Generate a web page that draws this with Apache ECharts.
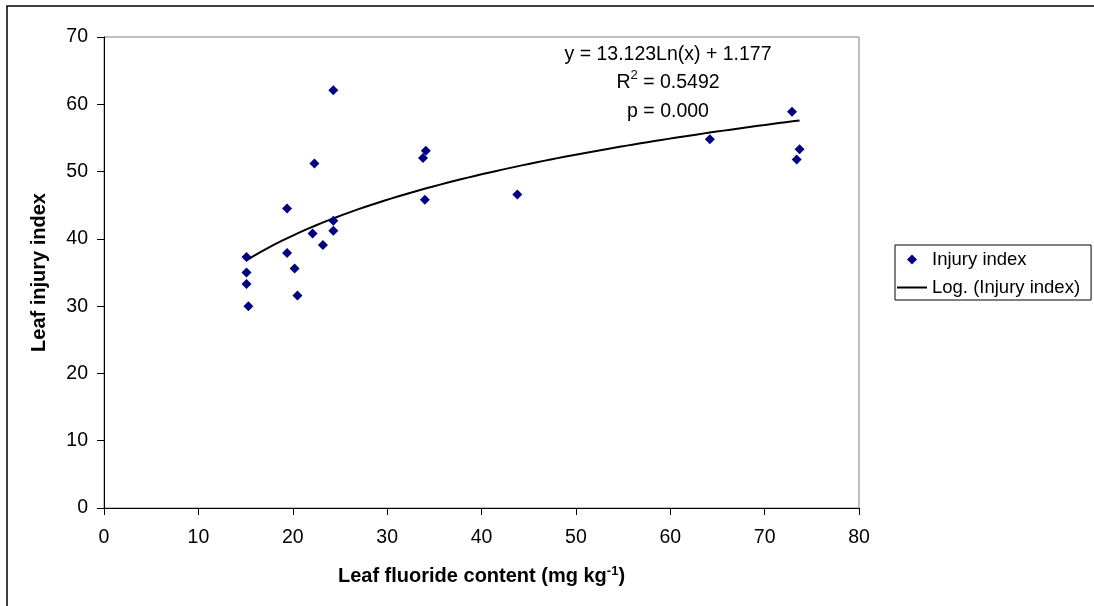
<!DOCTYPE html>
<html>
<head>
<meta charset="utf-8">
<script src="https://cdn.jsdelivr.net/npm/echarts@6/dist/echarts.min.js"></script>
<style>
  html, body { margin: 0; padding: 0; background: #fff; }
  #chart { width: 1094px; height: 606px; }
</style>
</head>
<body>
<div id="chart"></div>
<script>
// Leaf fluoride content (mg kg-1) and leaf injury index per sample
const fluoride = [24.3, 22.3, 19.4, 24.3, 22.1, 24.3, 23.2, 15.1, 19.4, 20.2, 15.1, 15.1, 20.5, 15.3,
                  34.1, 33.8, 34.0, 43.8, 72.9, 64.2, 73.7, 73.4];
const injury   = [62.1, 51.2, 44.5, 42.7, 40.8, 41.2, 39.1, 37.3, 37.9, 35.6, 35.0, 33.3, 31.6, 30.0,
                  53.1, 52.0, 45.8, 46.6, 58.9, 54.8, 53.3, 51.8];

// Logarithmic trend: y = a * ln(x) + b
const trendCoef = { a: 13.123, b: 1.177 };
const trendText = ['y = 13.123Ln(x) + 1.177', 'R{sup|2} = 0.5492', 'p = 0.000'];

const xTicks = { min: 0, max: 80, interval: 10 };
const yTicks = { min: 0, max: 70, interval: 10 };

const seriesNames = ['Injury index', 'Log. (Injury index)'];

const points = fluoride.map((x, i) => [x, injury[i]]);

// trend curve sampled across the observed fluoride range
const xLo = Math.min(...fluoride), xHi = Math.max(...fluoride);
const trend = [];
for (let i = 0; i <= 80; i++) {
  const x = xLo + (xHi - xLo) * i / 80;
  trend.push([x, trendCoef.a * Math.log(x) + trendCoef.b]);
}

const FONT = '"Liberation Sans", Arial, sans-serif';

const chart = echarts.init(document.getElementById('chart'), null, { renderer: 'canvas' });
chart.setOption({
  animation: false,
  backgroundColor: '#ffffff',
  textStyle: { fontFamily: FONT, color: '#000' },
  grid: {
    left: 104, top: 37, right: 235, bottom: 98,
    show: true, borderColor: '#808080', borderWidth: 1, backgroundColor: 'transparent'
  },
  xAxis: {
    type: 'value', min: xTicks.min, max: xTicks.max, interval: xTicks.interval,
    name: 'Leaf fluoride content (mg kg{sup|-1})',
    nameLocation: 'middle', nameGap: 57,
    nameTextStyle: {
      fontFamily: FONT, fontSize: 20, fontWeight: 'bold', color: '#000',
      rich: { sup: { fontFamily: FONT, fontSize: 13, fontWeight: 'bold', verticalAlign: 'top', padding: [0, 0, 10, 0] } }
    },
    axisLine: { show: true, lineStyle: { color: '#000', width: 1 } },
    axisTick: { show: true, inside: false, length: 7, lineStyle: { color: '#000' } },
    axisLabel: { fontFamily: FONT, fontSize: 19.5, color: '#000', margin: 20 },
    splitLine: { show: false }
  },
  yAxis: {
    type: 'value', min: yTicks.min, max: yTicks.max, interval: yTicks.interval,
    name: 'Leaf injury index',
    nameLocation: 'middle', nameGap: 55,
    nameTextStyle: { fontFamily: FONT, fontSize: 20, fontWeight: 'bold', color: '#000' },
    axisLine: { show: true, lineStyle: { color: '#000', width: 1 } },
    axisTick: { show: true, inside: false, length: 7, lineStyle: { color: '#000' } },
    axisLabel: { fontFamily: FONT, fontSize: 19.5, color: '#000', margin: 16 },
    splitLine: { show: false }
  },
  legend: {
    orient: 'vertical',
    left: 895, top: 245,
    padding: [5, 11, 3, 2],
    itemGap: 9,
    itemWidth: 30, itemHeight: 10,
    borderColor: '#000', borderWidth: 1,
    backgroundColor: '#fff',
    textStyle: { fontFamily: FONT, fontSize: 18.5, color: '#000' },
    data: [
      { name: seriesNames[0], icon: 'path://M15,0 L20,5 L15,10 L10,5 Z' },
      { name: seriesNames[1], icon: 'path://M0,4 L30,4 L30,6 L0,6 Z' }
    ]
  },
  graphic: [
    {
      type: 'rect', silent: true, z: -1,
      shape: { x: 7, y: 6, width: 1200, height: 700 },
      style: { fill: 'none', stroke: '#000', lineWidth: 1.5 }
    },
    {
      type: 'text', silent: true,
      x: 668, y: 40,
      style: {
        text: trendText.join('\n'),
        font: '19.5px ' + FONT,
        fill: '#000',
        align: 'center',
        verticalAlign: 'top',
        lineHeight: 28.5,
        rich: { sup: { fontSize: 13, verticalAlign: 'top', padding: [0, 0, 10, 0] } }
      }
    }
  ],
  series: [
    {
      name: seriesNames[0], type: 'scatter',
      data: points,
      symbol: 'diamond', symbolSize: [10, 10],
      itemStyle: { color: '#000080', opacity: 1 },
      z: 3
    },
    {
      name: seriesNames[1], type: 'line',
      data: trend,
      showSymbol: false, symbol: 'none',
      smooth: false,
      lineStyle: { color: '#000', width: 2 },
      itemStyle: { color: '#000' },
      z: 2
    }
  ]
});
</script>
</body>
</html>
